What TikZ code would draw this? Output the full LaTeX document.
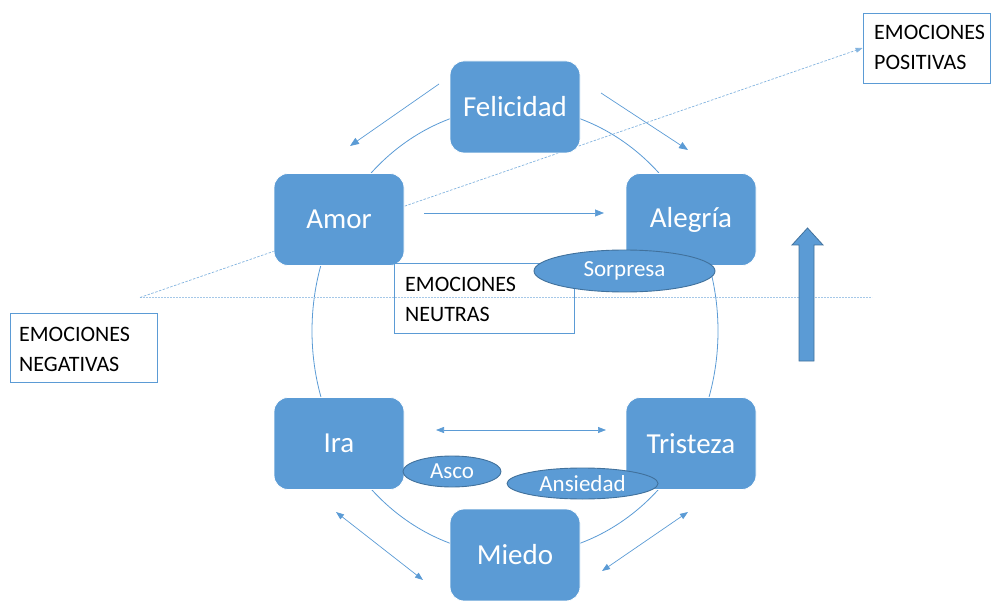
\documentclass[tikz,border=0pt]{standalone}
\usepackage{fontspec}
\setmainfont{Carlito}
\usetikzlibrary{arrows.meta,shapes.geometric}
\definecolor{bl}{HTML}{5B9BD5}
\definecolor{dbl}{HTML}{41719C}
\begin{document}
\begin{tikzpicture}[x=1pt,y=-1pt,
  emo/.style={draw=white, line width=0.8pt, fill=bl, rounded corners=14pt,
    minimum width=130pt, minimum height=92pt, inner sep=0pt, text=white,
    font=\fontsize{29}{35}\selectfont},
  ovl/.style={ellipse, draw=dbl, line width=0.9pt, fill=bl, inner sep=0pt,
    text=white, font=\fontsize{23}{27}\selectfont},
  lblbox/.style={draw=bl, line width=0.8pt, inner sep=0pt},
  lbltext/.style={anchor=base west, inner sep=0pt, text=black},
  conn/.style={draw=bl, line width=0.7pt, -{Triangle[length=9pt,width=7pt]}},
  dconn/.style={draw=bl, line width=0.7pt, {Triangle[length=8pt,width=6pt]}-{Triangle[length=8pt,width=6pt]}},
  dashline/.style={draw=bl!75, line width=0.7pt, dash pattern=on 2.5pt off 1.5pt},
  hdashline/.style={draw=bl!55, line width=1pt, dash pattern=on 2pt off 1pt},
  ring/.style={draw=bl, line width=0.8pt}
]
\useasboundingbox (0,0) rectangle (992,601);

% outer ring
\coordinate (ringc) at (515,331);
\draw[ring] (ringc) ellipse [x radius=203, y radius=224];

% dashed lines
\coordinate (dstart) at (140,297.5);
\coordinate (hend) at (872,297.5);
\node[lblbox, minimum width=127pt, minimum height=70pt] (pos) at (926.5,48) {};
\draw[hdashline] (dstart) -- (hend);
\draw[dashline, -{Triangle[length=7pt,width=5pt]}] (dstart) -- (pos.west);

% emotion boxes
\node[emo] (fel) at (515,107) {Felicidad};
\node[emo] (amor) at (339,219.5) {Amor};
\node[emo] (aleg) at (691,219.5) {Alegría};
\node[emo] (ira) at (339,443.5) {Ira};
\node[emo] (tris) at (691,443.5) {Tristeza};
\node[emo] (mie) at (515,555) {Miedo};

% label boxes
\node[lblbox, minimum width=147pt, minimum height=69pt] (neg) at (83.5,347.5) {};
\node[lblbox, minimum width=180pt, minimum height=70pt] (neu) at (484,298) {};
\node[lbltext] (post) at (874,39.5) {\parbox[t]{115pt}{\fontsize{22}{30.5}\selectfont EMOCIONES\\POSITIVAS}};
\node[lbltext] (negt) at (19,341) {\parbox[t]{135pt}{\fontsize{22}{30.5}\selectfont EMOCIONES\\NEGATIVAS}};
\node[lbltext] (neut) at (405,291) {\parbox[t]{165pt}{\fontsize{22}{30.5}\selectfont EMOCIONES\\NEUTRAS}};

% ovals
\node[ovl, minimum width=181pt, minimum height=42pt] (sor) at (624.5,271) {Sorpresa};
\node[ovl, minimum width=98pt, minimum height=31pt] (asco) at (452,471.5) {Asco};
\node[ovl, minimum width=151pt, minimum height=31pt] (ans) at (582.5,483.5) {\raisebox{-2pt}{Ansiedad}};

% connectors
\coordinate (a1s) at (439,84);  \coordinate (a1e) at (350,146);
\coordinate (a2s) at (601,93);  \coordinate (a2e) at (688,150);
\coordinate (a3s) at (424,213); \coordinate (a3e) at (604,213);
\coordinate (a4s) at (436,430); \coordinate (a4e) at (606,430);
\coordinate (a5s) at (336,512); \coordinate (a5e) at (423,580);
\coordinate (a6s) at (602,571); \coordinate (a6e) at (688,512);
\draw[conn] (a1s) -- (a1e);
\draw[conn] (a2s) -- (a2e);
\draw[conn] (a3s) -- (a3e);
\draw[dconn] (a4s) -- (a4e);
\draw[dconn] (a5s) -- (a5e);
\draw[dconn] (a6s) -- (a6e);

% big up arrow
\draw[fill=bl, draw=dbl, line width=0.8pt]
  (799,361) -- (799,245) -- (792,245) -- (807.5,228) -- (823,245)
  -- (814,245) -- (814,361) -- cycle;
\end{tikzpicture}
\end{document}
